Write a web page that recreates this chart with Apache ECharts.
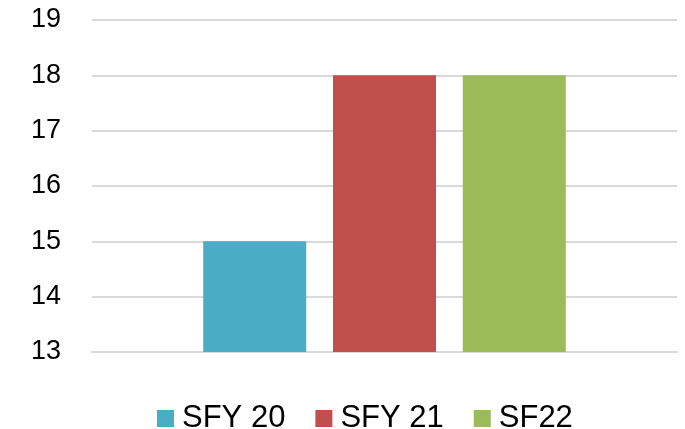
<!DOCTYPE html>
<html><head><meta charset="utf-8">
<script src="https://cdn.jsdelivr.net/npm/echarts@6/dist/echarts.min.js"></script>
<style>html,body{margin:0;padding:0;background:#fff}#c{width:685px;height:429px}</style>
</head><body><div id="c"></div>
<script>
const categories = [''];
const seriesNames = ['SFY 20', 'SFY 21', 'SF22'];
const sfy20 = [15];
const sfy21 = [18];
const sf22 = [18];
const colors = ['#4BACC6', '#C0504D', '#9BBB59'];
const values = [sfy20, sfy21, sf22];

const chart = echarts.init(document.getElementById('c'));
chart.setOption({
  animation: false,
  grid: { left: 92, right: 8, top: 20, bottom: 77, containLabel: false },
  legend: {
    top: 398, left: 152,
    itemWidth: 17, itemHeight: 17, itemGap: 30,
    icon: 'rect',
    textStyle: { fontFamily: 'Liberation Sans', fontSize: 31, color: '#000', padding: [0,0,0,3] },
    data: seriesNames
  },
  xAxis: {
    type: 'category', data: categories,
    axisLine: { show: true, lineStyle: { color: '#d9d9d9', width: 2 } },
    axisTick: { show: false }, axisLabel: { show: false }
  },
  yAxis: {
    type: 'value', min: 13, max: 19, interval: 1,
    axisLine: { show: false }, axisTick: { show: false },
    axisLabel: { fontFamily: 'Liberation Sans', fontSize: 27, color: '#000', margin: 31 },
    splitLine: { lineStyle: { color: '#d9d9d9', width: 2 } }
  },
  series: seriesNames.map((n, i) => ({
    name: n, type: 'bar', data: values[i],
    barWidth: 103, barGap: '26%',
    itemStyle: { color: colors[i] }
  }))
});
</script></body></html>
